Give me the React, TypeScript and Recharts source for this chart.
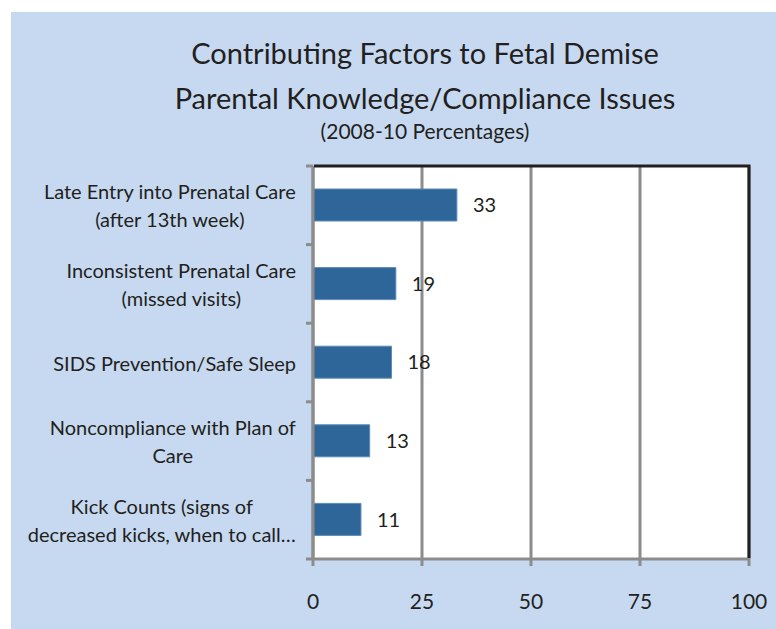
import React from 'react'
import {
  BarChart, Bar, XAxis, YAxis, CartesianGrid, LabelList,
} from 'recharts'

const categories = [
  'Late Entry into Prenatal Care\n(after 13th week)',
  'Inconsistent Prenatal Care\n(missed visits)',
  'SIDS Prevention/Safe Sleep',
  'Noncompliance with Plan of\nCare',
  'Kick Counts (signs of\ndecreased kicks, when to call…',
]
const values = [33, 19, 18, 13, 11]
const xTicks = [0, 25, 50, 75, 100]
const titleLines = [
  'Contributing Factors to Fetal Demise',
  'Parental Knowledge/Compliance Issues',
]
const subtitle = '(2008-10 Percentages)'

const FONT = 'Lato, "Noto Sans", sans-serif'
const TEXT = '#231f20'
const GRID = '#8c8c8c'

// plot box in page pixels
const PLOT_TOP = 166
const PLOT_LEFT = 313
const PLOT_RIGHT = 749
const PLOT_BOTTOM = 559
const BAND = (PLOT_BOTTOM - PLOT_TOP) / categories.length
const LABEL_RIGHT = 296
const LABEL_SIZE = 20

let ctx: CanvasRenderingContext2D | null = null
function measure(s: string) {
  if (!ctx) ctx = document.createElement('canvas').getContext('2d')
  if (!ctx) return s.length * 9
  ctx.font = `${LABEL_SIZE}px Lato`
  return ctx.measureText(s).width
}

const data = categories.map((name, i) => ({ name, value: values[i] }))

// Excel-style label: block right-aligned next to the axis, lines centred in the block
function CategoryTick(props: any) {
  const { y, payload, index } = props
  const lines = String(payload.value).split('\n')
  const lh = 28
  const top = y - ((lines.length - 1) * lh) / 2
  const blockW = Math.max(...lines.map(measure))
  const cx = LABEL_RIGHT - blockW / 2
  return (
    <g>
      <line x1={PLOT_LEFT - 7} x2={PLOT_LEFT} y1={y - BAND / 2} y2={y - BAND / 2} stroke={GRID} strokeWidth={3} />
      {index === categories.length - 1 && (
        <line x1={PLOT_LEFT - 7} x2={PLOT_LEFT} y1={y + BAND / 2} y2={y + BAND / 2} stroke={GRID} strokeWidth={3} />
      )}
      {lines.map((l, i) => (
        <text
          key={i}
          x={cx}
          y={top + i * lh}
          textAnchor="middle"
          dominantBaseline="central"
          fill={TEXT}
          fontSize={LABEL_SIZE}
          fontFamily={FONT}
        >
          {l}
        </text>
      ))}
    </g>
  )
}

export default function App() {
  return (
    <div style={{ position: 'absolute', left: 0, top: 0, width: 776, height: 629, background: '#fff' }}>
      <div style={{ position: 'absolute', left: 11, top: 12, width: 765, height: 617, background: '#c6d9f0' }} />
      <svg width={776} height={160} style={{ position: 'absolute', left: 0, top: 0 }}>
        {titleLines.map((t, i) => (
          <text
            key={t}
            x={425}
            y={52 + i * 45}
            textAnchor="middle"
            dominantBaseline="central"
            fill={TEXT}
            fontSize={29}
            fontFamily={FONT}
          >
            {t}
          </text>
        ))}
        <text x={425} y={130} textAnchor="middle" dominantBaseline="central" fill={TEXT} fontSize={21} fontFamily={FONT}>
          {subtitle}
        </text>
      </svg>
      <div style={{ position: 'absolute', left: 0, top: 0 }}>
        <BarChart
          width={776}
          height={629}
          layout="vertical"
          data={data}
          margin={{ top: PLOT_TOP, right: 776 - PLOT_RIGHT, bottom: 0, left: 0 }}
          barSize={32}
        >
          <CartesianGrid horizontal={false} stroke={GRID} strokeWidth={3} fill="#fff" />
          <XAxis
            type="number"
            domain={[0, 100]}
            ticks={xTicks}
            height={629 - PLOT_BOTTOM}
            axisLine={{ stroke: GRID, strokeWidth: 3 }}
            tickLine={{ stroke: GRID, strokeWidth: 3 }}
            tickSize={7}
            tickMargin={28}
            tick={{ fill: TEXT, fontSize: 21, fontFamily: FONT }}
          />
          <YAxis
            type="category"
            dataKey="name"
            width={PLOT_LEFT}
            interval={0}
            tickLine={false}
            axisLine={{ stroke: GRID, strokeWidth: 3 }}
            tick={<CategoryTick />}
          />
          <Bar dataKey="value" fill="#2e6699" stroke="#5d8ab8" strokeWidth={1} isAnimationActive={false}>
            <LabelList dataKey="value" position="right" offset={16} fill={TEXT} fontSize={20} fontFamily={FONT} />
          </Bar>
        </BarChart>
      </div>
      {/* black frame on top and right of the plot */}
      <svg width={776} height={629} style={{ position: 'absolute', left: 0, top: 0, pointerEvents: 'none' }}>
        <polyline
          points={`${PLOT_LEFT + 1},${PLOT_TOP} ${PLOT_RIGHT},${PLOT_TOP} ${PLOT_RIGHT},${PLOT_BOTTOM - 1}`}
          fill="none"
          stroke={TEXT}
          strokeWidth={3}
        />
      </svg>
    </div>
  )
}
